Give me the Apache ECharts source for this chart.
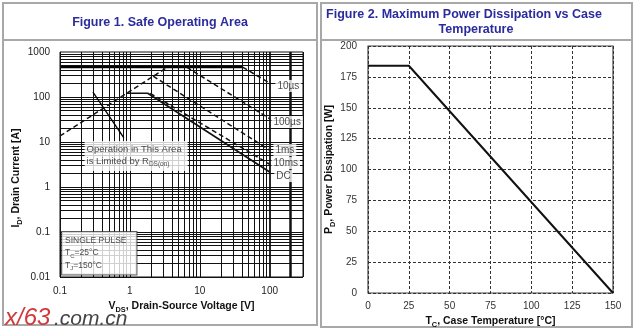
<!DOCTYPE html>
<html><head><meta charset="utf-8">
<script src="https://cdn.jsdelivr.net/npm/echarts@6/dist/echarts.min.js"></script>
<style>html,body{margin:0;padding:0;background:#fff}#c{width:639px;height:336px}</style>
</head><body><div id="c"></div>
<script>
// ---------- Figure 1: Safe Operating Area (log-log) ----------
const soaXTicks = [0.1, 1, 10, 100];
const soaYTicks = [0.01, 0.1, 1, 10, 100, 1000];
const rdsOnLimit = [[0.1, 13.6], [3.45, 460]];
const pulseCurrentLimit = [[0.1, 460], [41, 460]];
const soa10us = [[41, 460], [100, 205]];
const soa100us = [[6.5, 460], [100, 33]];
const soa1ms = [[2.15, 290], [100, 6.6]];
const soa10ms = [[1.95, 121], [100, 3.2]];
const soaDC = [[0.89, 121], [1.8, 121], [100, 2.15]];
const curveLabels = ['10µs', '100µs', '1ms', '10ms', 'DC'];
const curveLabelPos = [[185, 176], [178, 27.8], [165, 6.6], [170, 3.4], [158, 1.75]];
const annotationArrow = [[0.296, 129], [0.82, 12.3]];
const annotationPos = [0.225, 10.5];
const pulseNotePos = [0.107, 0.1];

// ---------- Figure 2: Power derating ----------
const tempTicks = [0, 25, 50, 75, 100, 125, 150];
const powerTicks = [0, 25, 50, 75, 100, 125, 150, 175, 200];
const powerDerating = [[0, 184], [25, 184], [150, 0]];

const FONT = 'Liberation Sans, Arial, sans-serif';
const BLUE = '#2b2b9e';

// log grid lines (decade subdivisions)
const xGridVals = [], yGridVals = [];
[0.1, 1, 10, 100].forEach(d => { for (let k = 1; k <= 9; k++) { const v = Number((k * d).toPrecision(3)); if (v <= 300) xGridVals.push(v); } });
xGridVals.push(300);
[0.01, 0.1, 1, 10, 100].forEach(d => { for (let k = 1; k <= 9; k++) yGridVals.push(Number((k * d).toPrecision(3))); });

const gridLineData = [
  ...xGridVals.map(v => ({ xAxis: v, lineStyle: { color: '#111', width: v === 200 ? 2.5 : (v === 100 ? 1.8 : 1), type: 'solid' } })),
  ...yGridVals.map(v => ({ yAxis: v, lineStyle: { color: '#111', width: 1, type: 'solid' } }))
];

const richSub = (fs) => ({
  b: { fontFamily: FONT, fontWeight: 'bold', fontSize: fs, color: '#111', lineHeight: 14 },
  s: { fontFamily: FONT, fontWeight: 'bold', fontSize: fs * 0.7, color: '#111', verticalAlign: 'bottom', lineHeight: 9 }
});

const logLabel = ticks => v => { const r = Number(Number(v).toPrecision(3)); return ticks.includes(r) ? String(r) : ''; };

const dashed = { color: '#111', width: 1.5, type: [5, 3] };
const solid = { color: '#111', width: 1.6, type: 'solid' };
const lineSeries = (data, style, z) => ({
  type: 'line', xAxisIndex: 0, yAxisIndex: 0, data, showSymbol: false, symbol: 'none',
  lineStyle: style, z: z || 4, silent: true, animation: false
});

const option = {
  animation: false,
  backgroundColor: '#fff',
  grid: [
    { left: 60, top: 52, width: 243, height: 225, show: true, borderColor: '#111', borderWidth: 1, backgroundColor: '#fff' },
    { left: 368, top: 46, width: 245, height: 247, show: true, borderColor: '#444', borderWidth: 1.2, backgroundColor: '#fff' }
  ],
  xAxis: [
    { gridIndex: 0, type: 'log', logBase: 10, min: 0.1, max: 300,
      axisLine: { show: false }, axisTick: { show: false }, splitLine: { show: false },
      axisLabel: { fontFamily: FONT, fontSize: 10, color: '#222', margin: 9, formatter: logLabel(soaXTicks), showMaxLabel: false },
      name: '{b|V}{s|DS}{b|, Drain-Source Voltage [V]}', nameLocation: 'middle', nameGap: 22,
      nameTextStyle: { rich: richSub(10.5) } },
    { gridIndex: 1, type: 'value', min: 0, max: 150, interval: 25,
      axisLine: { show: false }, axisTick: { show: false },
      splitLine: { show: true, lineStyle: { color: '#333', width: 1, type: [3, 2] } },
      axisLabel: { fontFamily: FONT, fontSize: 10, color: '#333', margin: 8,
        formatter: v => tempTicks.includes(v) ? String(v) : '' },
      name: '{b|T}{s|C}{b|, Case Temperature [°C]}', nameLocation: 'middle', nameGap: 18,
      nameTextStyle: { rich: richSub(10.5) } }
  ],
  yAxis: [
    { gridIndex: 0, type: 'log', logBase: 10, min: 0.01, max: 1000,
      axisLine: { show: false }, axisTick: { show: false }, splitLine: { show: false },
      axisLabel: { fontFamily: FONT, fontSize: 10, color: '#222', margin: 10, formatter: logLabel(soaYTicks) },
      name: '{b|I}{s|D}{b|, Drain Current [A]}', nameLocation: 'middle', nameGap: 37, nameRotate: 90,
      nameTextStyle: { rich: richSub(10.5), padding: [0, 27, 0, 0] } },
    { gridIndex: 1, type: 'value', min: 0, max: 200, interval: 25,
      axisLine: { show: false }, axisTick: { show: false },
      splitLine: { show: true, lineStyle: { color: '#333', width: 1, type: [3, 2] } },
      axisLabel: { fontFamily: FONT, fontSize: 10, color: '#333', margin: 11,
        formatter: v => powerTicks.includes(v) ? String(v) : '' },
      name: '{b|P}{s|D}{b|, Power Dissipation [W]}', nameLocation: 'middle', nameGap: 30, nameRotate: 90,
      nameTextStyle: { rich: richSub(10.5) } }
  ],
  series: [
    { type: 'line', xAxisIndex: 0, yAxisIndex: 0, data: [], symbol: 'none', z: 1, silent: true,
      markLine: { silent: true, symbol: ['none', 'none'], label: { show: false }, animation: false, data: gridLineData } },
    lineSeries(rdsOnLimit, dashed),
    lineSeries(pulseCurrentLimit, { color: '#000', width: 2.2, type: 'solid' }),
    lineSeries(soa10us, dashed),
    lineSeries(soa100us, dashed),
    lineSeries(soa1ms, dashed),
    lineSeries(soa10ms, dashed),
    lineSeries(soaDC, solid),
    { type: 'line', xAxisIndex: 0, yAxisIndex: 0, data: [], symbol: 'none', z: 5, silent: true,
      markLine: { silent: true, symbol: ['none', 'arrow'], symbolSize: [1, 9], label: { show: false }, animation: false,
        lineStyle: { color: '#000', width: 1.3, type: 'solid' },
        data: [[{ coord: annotationArrow[0] }, { coord: annotationArrow[1] }]] } },
    { type: 'scatter', xAxisIndex: 0, yAxisIndex: 0, symbolSize: 0, z: 6, silent: true,
      data: curveLabelPos,
      label: { show: true, position: 'inside', fontFamily: FONT, fontSize: 10, color: '#222',
        backgroundColor: '#fff', padding: [1, 2],
        formatter: p => curveLabels[p.dataIndex] } },
    { type: 'scatter', xAxisIndex: 0, yAxisIndex: 0, symbolSize: 0, z: 6, silent: true,
      data: [annotationPos],
      label: { show: true, position: [0, 0], backgroundColor: '#fff', padding: [2, 6, 3, 2],
        formatter: '{t|Operation in This Area}\n{t|is Limited by R}{s|DS(on)}',
        rich: { t: { fontFamily: FONT, fontSize: 9.5, color: '#222', lineHeight: 12.5 },
                s: { fontFamily: FONT, fontSize: 6.5, color: '#222', verticalAlign: 'bottom', lineHeight: 8 } } } },
    { type: 'scatter', xAxisIndex: 0, yAxisIndex: 0, symbolSize: 0, z: 6, silent: true,
      data: [pulseNotePos],
      label: { show: true, position: [0, 0], backgroundColor: '#fff', borderColor: '#333', borderWidth: 1, padding: [2, 10, 3, 3],
        formatter: '{t|SINGLE PULSE}\n{t|T}{s|C}{t|=25°C}\n{t|T}{s|J}{t|=150°C}',
        rich: { t: { fontFamily: FONT, fontSize: 8.5, color: '#222', lineHeight: 12.5 },
                s: { fontFamily: FONT, fontSize: 6, color: '#222', verticalAlign: 'bottom', lineHeight: 8 } } } },
    { type: 'line', xAxisIndex: 1, yAxisIndex: 1, data: powerDerating, symbol: 'none', z: 4, silent: true,
      lineStyle: { color: '#111', width: 2, type: 'solid' } }
  ],
  graphic: [
    { type: 'rect', z: 0, shape: { x: 3, y: 3, width: 314, height: 322 }, style: { fill: 'none', stroke: '#a8a8a8', lineWidth: 2 } },
    { type: 'line', z: 0, shape: { x1: 3, y1: 40, x2: 317, y2: 40 }, style: { stroke: '#a8a8a8', lineWidth: 2 } },
    { type: 'rect', z: 0, shape: { x: 321, y: 3, width: 311, height: 324 }, style: { fill: 'none', stroke: '#a8a8a8', lineWidth: 2 } },
    { type: 'line', z: 0, shape: { x1: 321, y1: 40, x2: 632, y2: 40 }, style: { stroke: '#a8a8a8', lineWidth: 2 } },
    { type: 'text', z: 10, x: 160, y: 23, style: { text: 'Figure 1. Safe Operating Area', fill: BLUE, font: 'bold 12.5px ' + FONT, textAlign: 'center', textVerticalAlign: 'middle' } },
    { type: 'text', z: 10, x: 464, y: 15, style: { text: 'Figure 2. Maximum Power Dissipation vs Case', fill: BLUE, font: 'bold 12.5px ' + FONT, textAlign: 'center', textVerticalAlign: 'middle' } },
    { type: 'text', z: 10, x: 476, y: 30, style: { text: 'Temperature', fill: BLUE, font: 'bold 12.5px ' + FONT, textAlign: 'center', textVerticalAlign: 'middle' } },
    { type: 'text', z: 20, x: 5, y: 318, style: { text: 'x/63', fill: '#d03a3a', font: 'italic 24px ' + FONT, textAlign: 'left', textVerticalAlign: 'middle' } },
    { type: 'text', z: 20, x: 54, y: 319, style: { text: '.com.cn', fill: '#444', font: 'italic 21px ' + FONT, textAlign: 'left', textVerticalAlign: 'middle' } }
  ]
};

const chart = echarts.init(document.getElementById('c'), null, { renderer: 'canvas' });
chart.setOption(option);
</script></body></html>
